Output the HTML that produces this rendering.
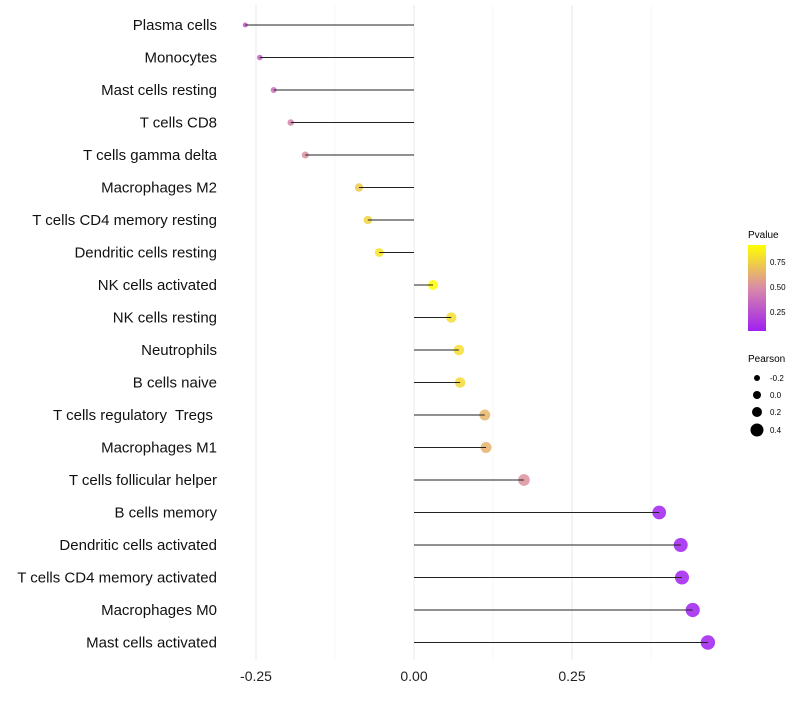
<!DOCTYPE html>
<html><head><meta charset="utf-8"><style>
body{margin:0;background:#fff;font-family:"Liberation Sans",sans-serif}
text{white-space:pre}
</style></head><body>
<svg id="chart" width="800" height="700" xmlns="http://www.w3.org/2000/svg">
<defs><linearGradient id="pg" x1="0" y1="1" x2="0" y2="0">
<stop offset="0" stop-color="#a020f0"/><stop offset="0.5" stop-color="#d98aa8"/><stop offset="1" stop-color="#ffff00"/>
</linearGradient></defs>
<g id="grid"></g><g id="marks"></g><g id="labels"></g>
<g>
<text x="748" y="238" font-size="10">Pvalue</text>
<rect x="748" y="245" width="18" height="86" fill="url(#pg)"/>
<text x="770" y="265" font-size="8">0.75</text><text x="770" y="290" font-size="8">0.50</text><text x="770" y="315" font-size="8">0.25</text>
</g>
<g>
<text x="748" y="362" font-size="10">Pearson</text>
<circle cx="757" cy="378" r="3"/><text x="770" y="381" font-size="8">-0.2</text>
<circle cx="757" cy="395" r="4"/><text x="770" y="398" font-size="8">0.0</text>
<circle cx="757" cy="412" r="5"/><text x="770" y="415" font-size="8">0.2</text>
<circle cx="757" cy="430" r="6.5"/><text x="770" y="433" font-size="8">0.4</text>
</g>
</svg>
<script>
const categories=["Plasma cells","Monocytes","Mast cells resting","T cells CD8","T cells gamma delta","Macrophages M2","T cells CD4 memory resting","Dendritic cells resting","NK cells activated","NK cells resting","Neutrophils","B cells naive","T cells regulatory  Tregs ","Macrophages M1","T cells follicular helper","B cells memory","Dendritic cells activated","T cells CD4 memory activated","Macrophages M0","Mast cells activated"];
const pearson=[-0.267,-0.244,-0.222,-0.195,-0.172,-0.087,-0.073,-0.055,0.030,0.059,0.071,0.073,0.112,0.114,0.174,0.388,0.422,0.424,0.441,0.465];
const pvalues=[0.30,0.33,0.38,0.46,0.52,0.72,0.76,0.82,0.92,0.80,0.80,0.78,0.65,0.64,0.52,0.07,0.06,0.06,0.06,0.06];
const xTicks=[-0.25,0,0.25];
const xTickLabels=["-0.25","0.00","0.25"];
const xMinor=[-0.125,0.125,0.375];
const NS="http://www.w3.org/2000/svg";
const x=v=>414+v*632;
const y=i=>25+i*32.5;
const rad=v=>Math.sqrt(Math.max(3,23+62*v));
function col(p){
  const t=Math.min(1,Math.max(0,(p-0.06)/(0.92-0.06)));
  const a=[160,32,240],m=[217,138,168],b=[255,255,0];
  let c;
  if(t<0.5){const u=t/0.5;c=a.map((v,k)=>v+(m[k]-v)*u);}else{const u=(t-0.5)/0.5;c=m.map((v,k)=>v+(b[k]-v)*u);}
  return `rgb(${c.map(Math.round).join(',')})`;
}
function mk(tag,attrs,parent){const e=document.createElementNS(NS,tag);for(const k in attrs)e.setAttribute(k,attrs[k]);parent.appendChild(e);return e;}
const grid=document.getElementById('grid'),marks=document.getElementById('marks'),labels=document.getElementById('labels');
xMinor.forEach(v=>{const l=mk('line',{x1:x(v),x2:x(v),y1:5,y2:660,stroke:'#f2f2f2','stroke-width':0.6},grid);

});
xTicks.forEach((v,i)=>{const l=mk('line',{x1:x(v),x2:x(v),y1:5,y2:660,stroke:'#ebebeb','stroke-width':1.1},grid);


const t=mk('text',{x:x(v),y:681,'font-size':14,'text-anchor':'middle',fill:'#222'},labels);t.textContent=xTickLabels[i];

});
categories.forEach((c,i)=>{
  const t=mk('text',{x:217,y:y(i)+5,'font-size':15,'text-anchor':'end',fill:'#111'},labels);t.textContent=c;
  
  
  const p=mk('circle',{cx:x(pearson[i]),cy:y(i),r:rad(pearson[i]),fill:col(pvalues[i]),'fill-opacity':0.85},marks);
  
  
  const l=mk('line',{x1:x(0),x2:x(pearson[i]),y1:y(i),y2:y(i),stroke:'#222','stroke-width':1},marks);
  
  
});
</script>
</body></html>
